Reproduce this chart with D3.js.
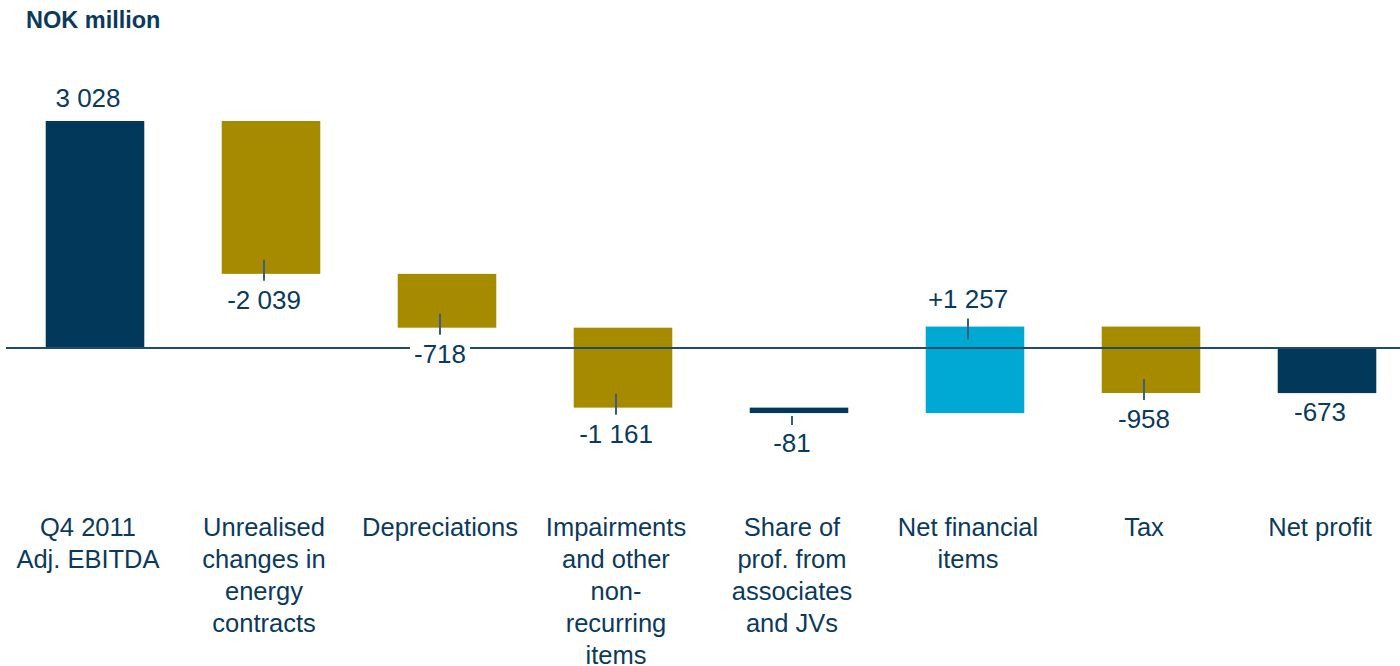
<!DOCTYPE html>
<html>
<head>
<meta charset="utf-8">
<script src="https://cdn.jsdelivr.net/npm/d3@7/dist/d3.min.js"></script>
<style>
  body { margin: 0; background: #fff; }
  text { font-family: "Liberation Sans", Arial, sans-serif; fill: #0b3a5c; }
</style>
</head>
<body>
<div id="chart"></div>
<script>
// waterfall data, NOK million
var categories = ["Q4 2011 Adj. EBITDA", "Unrealised changes in energy contracts", "Depreciations",
    "Impairments and other non-recurring items", "Share of prof. from associates and JVs",
    "Net financial items", "Tax", "Net profit"];
var tickLines = [
    ["Q4 2011", "Adj. EBITDA"],
    ["Unrealised", "changes in", "energy", "contracts"],
    ["Depreciations"],
    ["Impairments", "and other", "non-", "recurring", "items"],
    ["Share of", "prof. from", "associates", "and JVs"],
    ["Net financial", "items"],
    ["Tax"],
    ["Net profit"]
];
var values = [3028, -2039, -718, -1161, -81, 1257, -958, -673];
var kinds = ["total", "delta", "delta", "delta", "small", "delta", "delta", "total"];

var width = 1400, height = 666;
var svg = d3.select("#chart").append("svg")
    .attr("width", width)
    .attr("height", height);

var navy = "#02395b", gold = "#a68a00", cyan = "#00a8d4";

var x = d3.scaleBand()
    .domain(categories)
    .range([0, 1408])
    .paddingInner(0.44)
    .paddingOuter(0.22);

// the source chart squeezes the negative side a bit
var y = d3.scaleLinear()
    .domain([-1000, 0, 3028])
    .range([415, 348, 121]);

var nok = d3.formatLocale({decimal: ",", thousands: " ", grouping: [3], currency: ["", ""], minus: "-"});
var fmt = nok.format(",d"), fmtPlus = nok.format("+,d");

// running totals
var running = 0;
var bars = values.map(function(v, i) {
    var start, end;
    if (kinds[i] == "total") { start = 0; end = v; }
    else { start = running; end = running + v; }
    running = end;
    return {cat: categories[i], v: v, kind: kinds[i], start: start, end: end};
});

function barColor(d) {
    if (d.kind == "total" || d.kind == "small") return navy;
    return d.v < 0 ? gold : cyan;
}

var shift = 7; // bars sit a little right of their labels

// title
svg.append("text")
    .attr("x", 26).attr("y", 28)
    .style("font-size", "23.5px")
    .style("font-weight", "bold")
    .text("NOK million");

// bars
svg.append("g").selectAll("rect")
    .data(bars)
    .enter().append("rect")
    .attr("x", function(d) { return x(d.cat) + shift; })
    .attr("width", x.bandwidth())
    .attr("y", function(d) { return Math.min(y(d.start), y(d.end)); })
    .attr("height", function(d) { return Math.abs(y(d.start) - y(d.end)); })
    .attr("fill", barColor);

// zero line
svg.append("line")
    .attr("x1", 6).attr("x2", width)
    .attr("y1", y(0)).attr("y2", y(0))
    .attr("stroke", "#1d4c6c")
    .attr("stroke-width", 2);

// small ticks at the end of each change
var deltas = bars.filter(function(d) { return d.kind != "total"; });
svg.append("g").selectAll("line")
    .data(deltas)
    .enter().append("line")
    .attr("x1", function(d) { return x(d.cat) + x.bandwidth() / 2; })
    .attr("x2", function(d) { return x(d.cat) + x.bandwidth() / 2; })
    .attr("y1", function(d) {
        var e = y(d.end);
        if (d.kind == "small") return e + 3;
        return d.v < 0 ? e - 14 : e + 13;
    })
    .attr("y2", function(d) {
        var e = y(d.end);
        if (d.kind == "small") return e + 12;
        return d.v < 0 ? e + 7 : e - 8;
    })
    .attr("stroke", "#3a6178")
    .attr("stroke-width", 2);

// value labels (white box behind so the zero line is cut)
var vl = svg.append("g").selectAll("g")
    .data(bars)
    .enter().append("g");

vl.append("rect").attr("fill", "#fff");
vl.append("text")
    .attr("text-anchor", "middle")
    .style("font-size", "26px")
    .attr("x", function(d) { return x(d.cat) + x.bandwidth() / 2; })
    .attr("y", function(d) {
        var lo = Math.max(y(d.start), y(d.end)), hi = Math.min(y(d.start), y(d.end));
        if (d.kind == "total") return d.v >= 0 ? hi - 14 : lo + 28;
        if (d.kind == "small") return lo + 39;
        return d.v < 0 ? lo + 35 : hi - 19;
    })
    .text(function(d) {
        return (d.kind != "total" && d.v > 0) ? fmtPlus(d.v) : fmt(d.v);
    });

vl.each(function() {
    var g = d3.select(this);
    var b = g.select("text").node().getBBox();
    g.select("rect")
        .attr("x", b.x - 4).attr("y", b.y + 2)
        .attr("width", b.width + 8).attr("height", b.height - 4);
});

// category labels
var cl = svg.append("g").selectAll("text")
    .data(categories)
    .enter().append("text")
    .attr("text-anchor", "middle")
    .style("font-size", "25.5px")
    .attr("x", function(d) { return x(d) + x.bandwidth() / 2; })
    .attr("y", 536);

cl.selectAll("tspan")
    .data(function(d, i) { return tickLines[i]; })
    .enter().append("tspan")
    .attr("x", function() { return d3.select(this.parentNode).attr("x"); })
    .attr("dy", function(d, i) { return i == 0 ? 0 : 32; })
    .text(function(d) { return d; });
</script>
</body>
</html>
